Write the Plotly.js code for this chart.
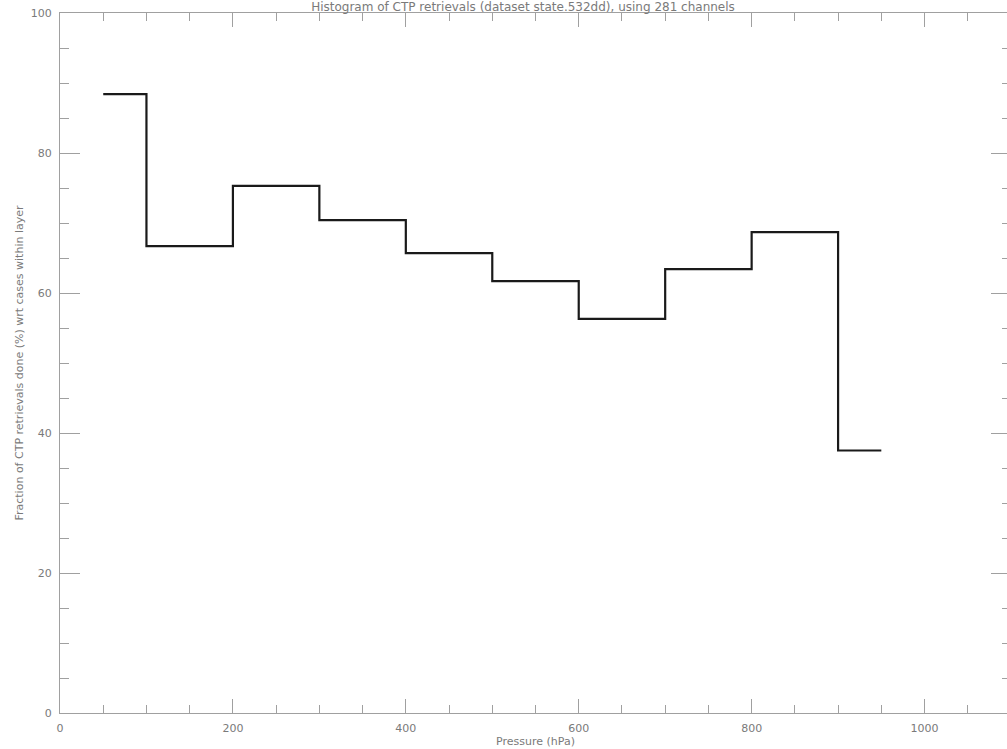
<!DOCTYPE html>
<html>
<head>
<meta charset="utf-8">
<script src="https://cdn.plot.ly/plotly-3.0.1.min.js"></script>
<style>
  html, body { margin: 0; padding: 0; overflow: hidden; background: #fff; }
  #plot { width: 1011px; height: 749px; }
</style>
</head>
<body>
<div id="plot"></div>
<script>
// bin start pressures (hPa), last point closes the final bin
var binEdges = [50, 100, 200, 300, 400, 500, 600, 700, 800, 900, 950];
// fraction of CTP retrievals (%) per layer, last value repeated to close the step
var fractionDone = [88.4, 66.7, 75.3, 70.4, 65.7, 61.7, 56.3, 63.4, 68.7, 37.5, 37.5];

var xTicks = [0, 200, 400, 600, 800, 1000];
var yTicks = [0, 20, 40, 60, 80, 100];

var axisGray = '#a0a0a0';
var textGray = '#7a7a7a';

var trace = {
    x: binEdges,
    y: fractionDone,
    type: 'scatter',
    mode: 'lines',
    line: {shape: 'hv', color: '#1a1a1a', width: 2.2},
    hoverinfo: 'x+y'
};

var layout = {
    width: 1011,
    height: 749,
    margin: {l: 60, r: 0, t: 13, b: 36},
    paper_bgcolor: '#fff',
    plot_bgcolor: '#fff',
    showlegend: false,
    font: {family: 'DejaVu Sans, sans-serif', size: 11, color: textGray},
    title: {
        text: 'Histogram of CTP retrievals (dataset state.532dd), using 281 channels',
        font: {size: 12, color: textGray},
        xref: 'container', x: 523 / 1011, xanchor: 'center',
        yref: 'container', y: 0.996, yanchor: 'top',
        pad: {t: 0, b: 0}
    },
    xaxis: {
        range: [0, 1100],
        tickvals: xTicks,
        ticktext: xTicks.map(String),
        ticks: 'inside', ticklen: 14, tickwidth: 1, tickcolor: axisGray,
        minor: {dtick: 50, tick0: 0, ticks: 'inside', ticklen: 8, tickcolor: axisGray, showgrid: false},
        showline: true, linecolor: axisGray, linewidth: 1, mirror: 'ticks',
        showgrid: false, zeroline: false,
        ticklabelstandoff: 5,
        tickfont: {size: 11, color: textGray},
        title: {text: 'Pressure (hPa)', font: {size: 11, color: textGray}, standoff: 2}
    },
    yaxis: {
        range: [0, 100],
        tickvals: yTicks,
        ticktext: yTicks.map(String),
        ticks: 'inside', ticklen: 20, tickwidth: 1, tickcolor: axisGray,
        minor: {dtick: 5, tick0: 0, ticks: 'inside', ticklen: 9, tickcolor: axisGray, showgrid: false},
        showline: true, linecolor: axisGray, linewidth: 1, mirror: 'ticks',
        showgrid: false, zeroline: false,
        ticklabelstandoff: 5,
        tickfont: {size: 11, color: textGray},
        title: {text: 'Fraction of CTP retrievals done (%) wrt cases within layer', font: {size: 11, color: textGray}, standoff: 4}
    }
};

Plotly.newPlot('plot', [trace], layout, {displayModeBar: false, staticPlot: true});
</script>
</body>
</html>
